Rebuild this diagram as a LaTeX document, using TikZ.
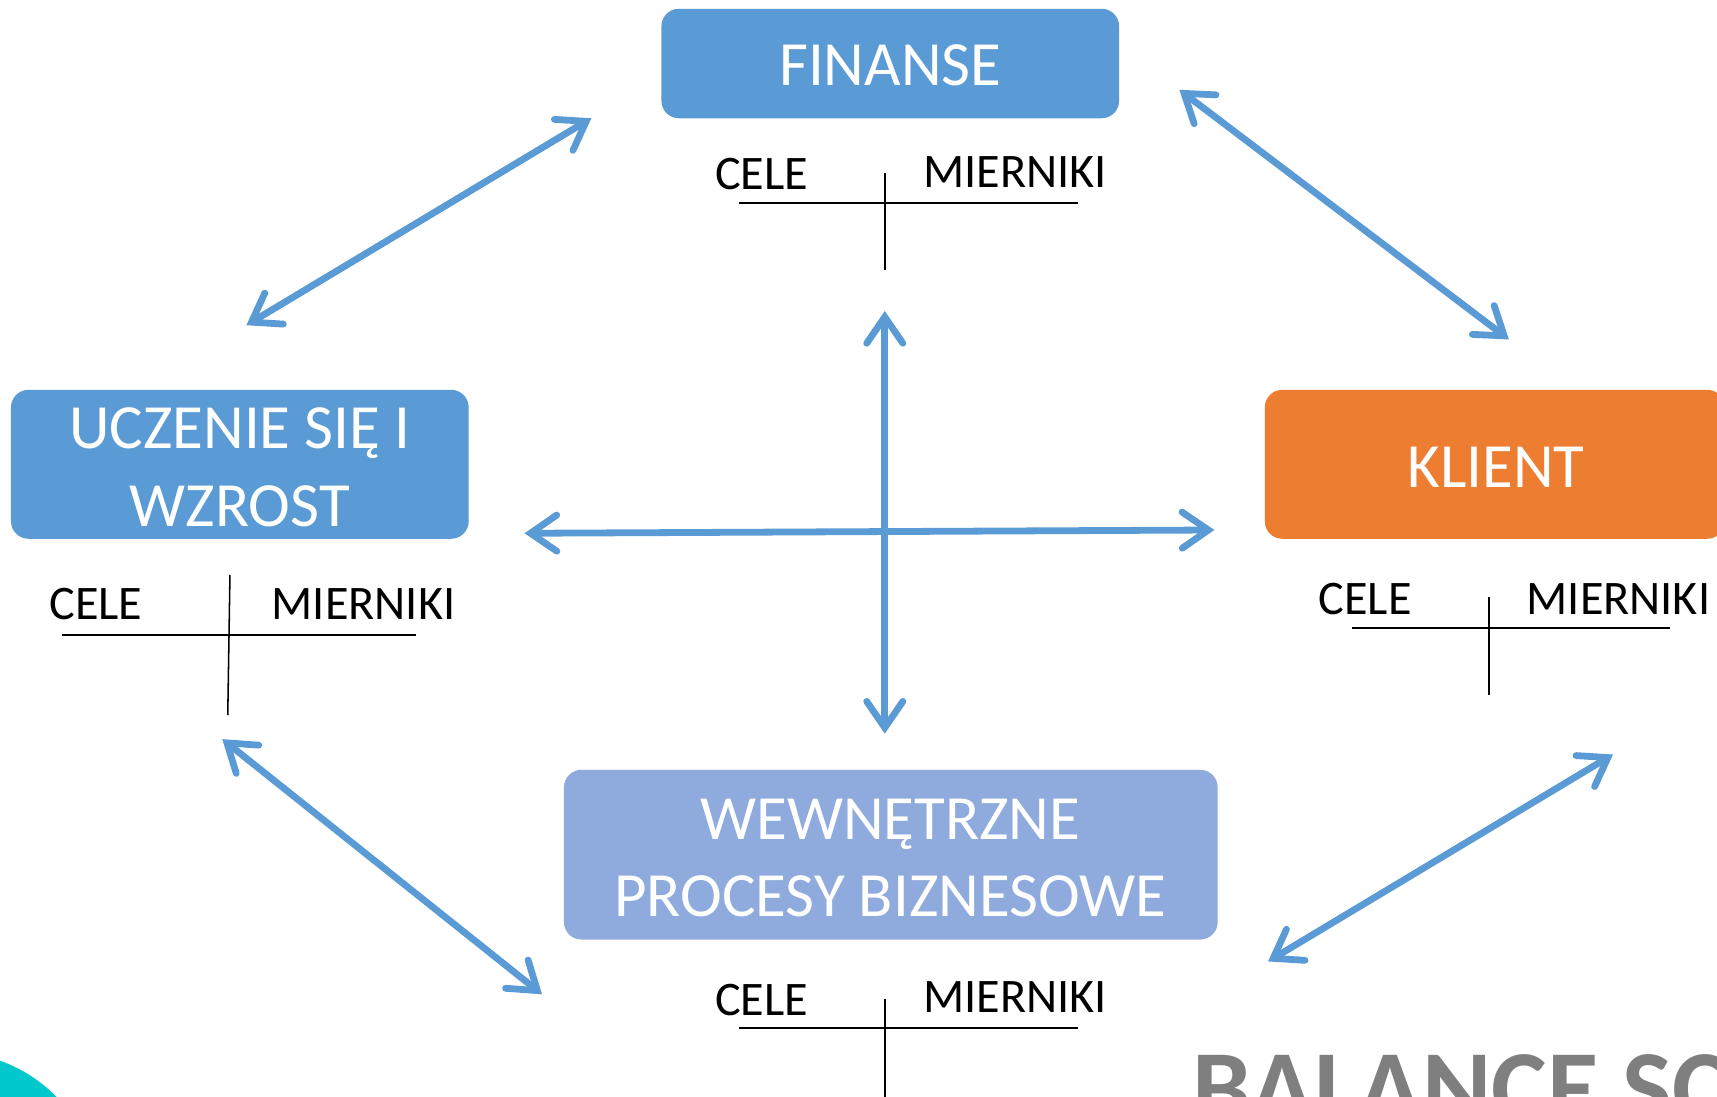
\documentclass[tikz,border=0pt]{standalone}
\usepackage{fontspec}
\setmainfont{Carlito}
\usetikzlibrary{arrows.meta}
\definecolor{boxblue}{HTML}{5B9BD5}
\definecolor{boxlight}{HTML}{8FAADC}
\definecolor{boxorange}{HTML}{ED7D31}
\definecolor{tealc}{RGB}{0,200,205}
\definecolor{titlegray}{HTML}{7F7F7F}
\tikzset{
  boxnode/.style={rounded corners=16pt, inner sep=0pt, outer sep=0pt, draw=none},
  boxtext/.style={text=white, font=\fontsize{57.5}{69}\selectfont, inner sep=0pt, anchor=base},
  collabel/.style={text=black, font=\fontsize{44}{52}\selectfont, inner sep=0pt, anchor=base west},
  tline/.style={draw=black, line width=1.4pt},
  dblarrow/.style={draw=boxblue, line width=6.2pt,
    {Straight Barb[length=24pt,width=33pt,line cap=round,line join=miter]}-{Straight Barb[length=24pt,width=33pt,line cap=round,line join=miter]}}
}
\begin{document}
\begin{tikzpicture}[x=1pt,y=-1pt]
\useasboundingbox (0,0) rectangle (1568,1001);
\clip (0,0) rectangle (1568,1001);
\fill[white] (0,0) rectangle (1568,1001);

% decorative teal circle bottom-left
\fill[tealc] (-45,1096) circle (135);

% boxes
\node[boxnode, fill=boxblue, minimum width=418pt, minimum height=100pt] (fin) at (813,58) {};
\node[boxtext] (fint) at (813,78.5) {FINANSE};

\node[boxnode, fill=boxblue, minimum width=418pt, minimum height=136pt] (ucz) at (219,424) {};
\node[boxtext] (ucz1) at (219,410) {UCZENIE SIĘ I};
\node[boxtext] (ucz2) at (219,481) {WZROST};

\node[boxnode, fill=boxorange, minimum width=420pt, minimum height=136pt] (kli) at (1365,424) {};
\node[boxtext] (klit) at (1366,445) {KLIENT};

\node[boxnode, fill=boxlight, minimum width=597pt, minimum height=155pt] (wew) at (813.5,780.5) {};
\node[boxtext] (wew1) at (813,767) {WEWNĘTRZNE};
\node[boxtext] (wew2) at (813,837) {PROCESY BIZNESOWE};

% T tables
\node[collabel] (fc) at (653,173.5) {CELE};
\node[collabel] (fm) at (843,171.5) {MIERNIKI};
\draw[tline] (675,185.5) -- (984,185.5);
\draw[tline] (808,158) -- (808,247);

\node[collabel] (uc) at (45,565.5) {CELE};
\node[collabel] (um) at (248,565.5) {MIERNIKI};
\draw[tline] (57,580) -- (380,580);
\draw[tline] (210,525) -- (208,653);

\node[collabel] (kc) at (1204,561) {CELE};
\node[collabel] (km) at (1394,561) {MIERNIKI};
\draw[tline] (1235,573.5) -- (1525,573.5);
\draw[tline] (1360,545) -- (1360,635);

\node[collabel] (wc) at (653,927) {CELE};
\node[collabel] (wm) at (843,925) {MIERNIKI};
\draw[tline] (675,939) -- (984,939);
\draw[tline] (808,912) -- (808,1005);

% arrow end points
\coordinate (a1s) at (225,297);
\coordinate (a1e) at (540,108);
\coordinate (a2s) at (1077,82);
\coordinate (a2e) at (1378,310);
\coordinate (a3s) at (203,675);
\coordinate (a3e) at (495,908);
\coordinate (a4s) at (1158,878);
\coordinate (a4e) at (1473,689);
\coordinate (a5s) at (808,284);
\coordinate (a5e) at (808,670);
\coordinate (a6s) at (479,487);
\coordinate (a6e) at (1109,484);

\draw[dblarrow] (a1s) -- (a1e);
\draw[dblarrow] (a2s) -- (a2e);
\draw[dblarrow] (a3s) -- (a3e);
\draw[dblarrow] (a4s) -- (a4e);
\draw[dblarrow] (a5s) -- (a5e);
\draw[dblarrow] (a6s) -- (a6e);

% title (cut off by the page edge)
\node[text=titlegray, font=\fontsize{96}{110}\selectfont\bfseries, inner sep=0pt, anchor=base west] (title) at (1089,1026) {BALANCE SC};
\end{tikzpicture}
\end{document}
